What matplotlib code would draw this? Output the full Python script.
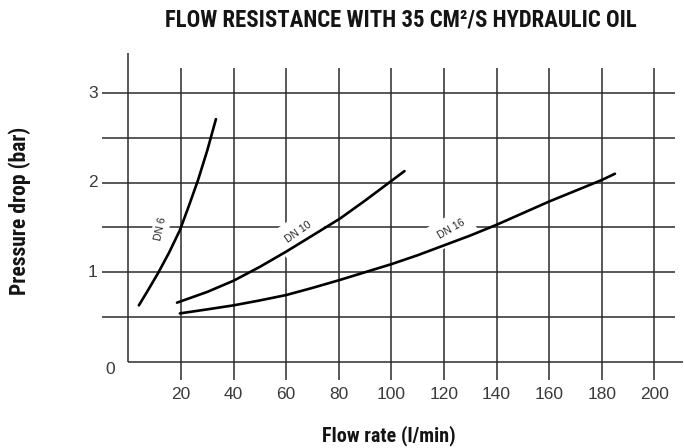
import matplotlib
matplotlib.use("Agg")
import matplotlib.pyplot as plt

# Pressure drop curves read per valve size (flow l/min, pressure bar)
dn6_flow = [4.0, 7.5, 11.3, 15.5, 19.6, 23.0, 26.5, 30.0, 33.3]
dn6_dp = [0.63, 0.80, 0.99, 1.22, 1.47, 1.74, 2.03, 2.36, 2.71]

dn10_flow = [18.5, 30, 40, 50, 60, 70, 80.5, 90, 100, 105]
dn10_dp = [0.66, 0.78, 0.905, 1.06, 1.23, 1.41, 1.60, 1.80, 2.02, 2.13]

dn16_flow = [19.6, 30, 40, 50, 60, 70, 80, 90, 100, 110, 120, 130, 140,
             150, 160, 170, 180, 185]
dn16_dp = [0.54, 0.585, 0.63, 0.685, 0.745, 0.825, 0.91, 1.00, 1.09, 1.19,
           1.30, 1.41, 1.53, 1.66, 1.79, 1.91, 2.03, 2.10]

x_ticks = [20, 40, 60, 80, 100, 120, 140, 160, 180, 200]
y_grid = [0.5, 1.0, 1.5, 2.0, 2.5, 3.0]
y_labels = [1, 2, 3]

title = "FLOW RESISTANCE WITH 35 CM²/S HYDRAULIC OIL"
narrow = ["Roboto Condensed", "DejaVu Sans"]
plain = ["Liberation Sans", "DejaVu Sans"]

fig = plt.figure(figsize=(6.84, 4.48), dpi=100)
ax = fig.add_axes([0.1415, 0.1326, 0.8575, 0.7593])
ax.set_xlim(-12, 211)
ax.set_ylim(-0.3, 3.5)
ax.axis("off")

grid_kw = dict(color="#2b2b2b", lw=1.1, zorder=1)
ax.hlines(y_grid, -10, 208, **grid_kw)
ax.vlines(x_ticks, -0.2, 3.28, **grid_kw)
# axes drawn by hand
ax.vlines(0, 0, 3.45, **grid_kw)
ax.hlines(0, 0, 211, clip_on=False, **grid_kw)

curve_kw = dict(color="black", lw=1.9, solid_capstyle="round", zorder=3)
ax.plot(dn6_flow, dn6_dp, **curve_kw)
ax.plot(dn10_flow, dn10_dp, **curve_kw)
ax.plot(dn16_flow, dn16_dp, **curve_kw)

lbl_kw = dict(fontsize=7.5, family=plain, color="#222222", ha="center",
              va="center", zorder=2, rotation_mode="anchor")
ax.text(12.3, 1.49, "DN 6", rotation=78,
        bbox=dict(fc="white", ec="none", pad=2.5), **lbl_kw)
ax.text(64.5, 1.45, "DN 10", rotation=35,
        bbox=dict(fc="white", ec="none", pad=7), **lbl_kw)
ax.text(122.7, 1.48, "DN 16", rotation=30,
        bbox=dict(fc="white", ec="none", pad=6), **lbl_kw)

tick_kw = dict(fontsize=12.5, family=plain, color="#3a3a3a", clip_on=False)
for v in x_ticks:
    ax.text(v, -0.37, str(v), ha="center", va="center", **tick_kw)
for v in y_labels:
    ax.text(-13.5, v, str(v), ha="center", va="center", **tick_kw)
ax.text(-7, -0.09, "0", ha="center", va="center", **tick_kw)

head_kw = dict(fontweight="bold", family=narrow, color="#141414",
               ha="center", va="center")
fig.text(401 / 684, 1 - 20 / 448, title, fontsize=16.4, **head_kw)
fig.text(389 / 684, 1 - 436 / 448, "Flow rate (l/min)", fontsize=14.5,
         **head_kw)
fig.text(20 / 684, 1 - 211 / 448, "Pressure drop (bar)", rotation=90,
         fontsize=15.5, **head_kw)

fig.savefig("out.png", dpi=100, facecolor="white")
